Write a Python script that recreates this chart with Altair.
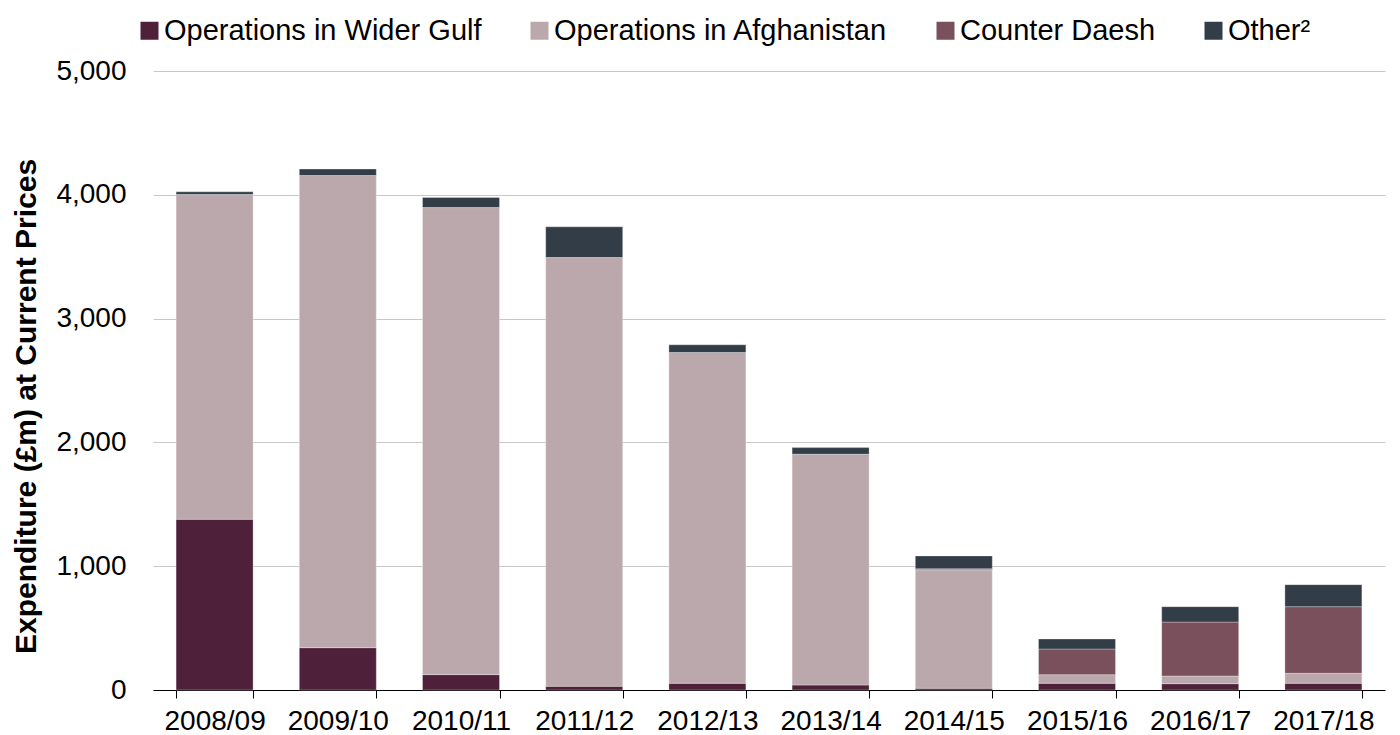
import altair as alt
import pandas as pd

years = ["2008/09", "2009/10", "2010/11", "2011/12", "2012/13",
         "2013/14", "2014/15", "2015/16", "2016/17", "2017/18"]
series = ["Operations in Wider Gulf", "Operations in Afghanistan", "Counter Daesh", "Other\u00b2"]
wider_gulf = [1379, 342, 124, 30, 54, 40, 14, 54, 51, 54]
afghanistan = [2623, 3814, 3773, 3463, 2672, 1865, 957, 70, 62, 81]
counter_daesh = [0, 0, 0, 0, 0, 0, 8, 207, 436, 538]
other = [22, 52, 81, 248, 62, 53, 104, 81, 124, 178]
colors = ["#4E203A", "#BBA8AC", "#7A505D", "#333D48"]
y_ticks = [0, 1000, 2000, 3000, 4000, 5000]

rows = []
for vals, name in zip([wider_gulf, afghanistan, counter_daesh, other], series):
    for y, v in zip(years, vals):
        rows.append({"year": y, "series": name, "value": v, "order": series.index(name)})
df = pd.DataFrame(rows)

FONT = "Liberation Sans"

chart = alt.Chart(df).mark_bar(stroke="white", strokeWidth=0.6, strokeOpacity=0.5).encode(
    x=alt.X("year:N", sort=years,
            scale=alt.Scale(paddingInner=0.375, paddingOuter=0.1875),
            axis=alt.Axis(title=None, labelAngle=0, tickBand="extent", tickSize=8,
                          tickColor="#000000", domainColor="#000000", labelColor="#000000",
                          labelFontSize=28, labelFont=FONT, labelPadding=9, grid=False)),
    y=alt.Y("value:Q", stack="zero",
            scale=alt.Scale(domain=[0, 5000], nice=False),
            axis=alt.Axis(title="Expenditure (£m) at Current Prices", values=y_ticks,
                          format=",.0f", domain=False, ticks=False, labelPadding=27,
                          labelFontSize=28, labelFont=FONT, labelColor="#000000",
                          titleFont=FONT, titleFontSize=30, titleFontWeight="bold", titleColor="#000000",
                          titlePadding=14, titleY=335, gridColor="#C8C8C8", gridWidth=1)),
    color=alt.Color("series:N", sort=series,
                    scale=alt.Scale(domain=series, range=colors),
                    legend=alt.Legend(title=None, orient="none", direction="horizontal",
                                      legendX=-18, legendY=-55, symbolType="square",
                                      symbolSize=324, symbolStrokeWidth=0, labelFontSize=29,
                                      labelFont=FONT, labelColor="#000000", labelOffset=0,
                                      columnPadding=43, labelLimit=500)),
    order=alt.Order("order:Q", sort="ascending"),
).properties(
    width=1232, height=619,
    background="white",
    autosize=alt.AutoSizeParams(type="none"),
    padding={"left": 145, "top": 63, "right": 7, "bottom": 50},
).configure_view(stroke="transparent", strokeWidth=0).configure_axisY(domain=False)

chart.save("out.html", embed_options={"renderer": "svg", "actions": False})
